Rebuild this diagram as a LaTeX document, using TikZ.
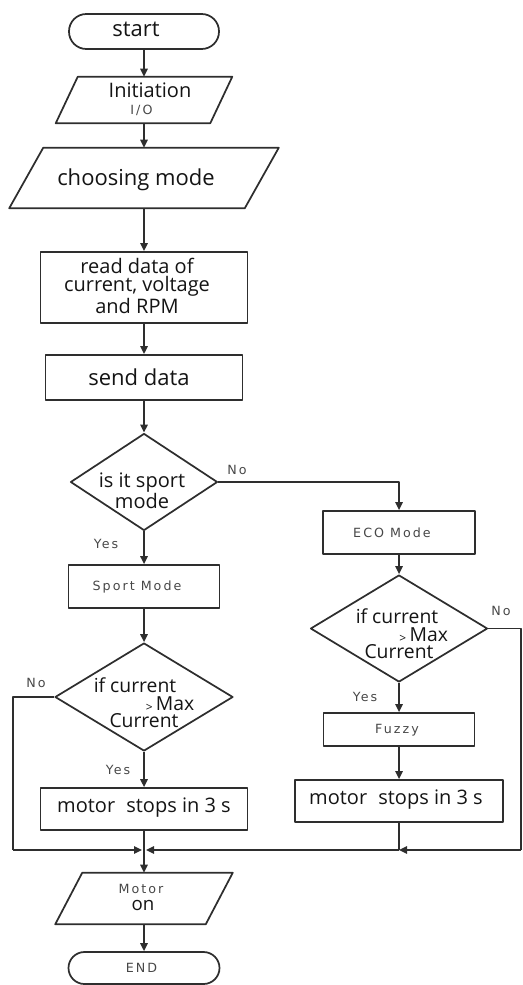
\documentclass[tikz,border=0pt]{standalone}
\usepackage{fontspec}
\setmainfont{Open Sans}
\newfontfamily\smallf[LetterSpace=16]{DejaVu Sans}
\usetikzlibrary{shapes.geometric,arrows.meta}
\begin{document}
\begin{tikzpicture}[x=0.75pt,y=-0.75pt,
 line/.style={draw=black!82, line width=1.3pt, line join=round},
 arr/.style={line, -{Triangle[length=6pt,width=5.5pt]}},
 box/.style={line, rectangle, inner sep=0pt},
 term/.style={line, rectangle, inner sep=0pt, rounded corners=12pt},
 ghost/.style={rectangle, inner sep=0pt},
 dec/.style={line, diamond, inner sep=0pt},
 big/.style={font=\fontsize{16.5}{18}\selectfont, align=center, inner sep=0pt, text=black!92},
 mid/.style={font=\fontsize{15}{13.5}\selectfont, align=center, inner sep=0pt, text=black!92},
 cond/.style={font=\fontsize{14.5}{13}\selectfont, align=center, inner sep=0pt, text=black!92},
 sm/.style={font=\smallf\fontsize{9.5}{12}\selectfont, text=black!72, inner sep=0pt, align=center},
]
\useasboundingbox (0,0) rectangle (523,985);

% ---- shapes ----
\node[term, minimum width=112.5pt, minimum height=26.25pt, rounded corners=13pt] (start) at (144,31.5) {};
\node[big] (startT) at (136,29) {start};

\node[ghost, minimum width=132pt, minimum height=34.5pt] (init) at (144,100) {};
\draw[line] ([xshift=16.5pt]init.north west) -- (init.north east) -- ([xshift=-16.5pt]init.south east) -- (init.south west) -- cycle;
\node[mid] (initT) at (150,90) {Initiation};
\node[sm] (initIO) at (141.5,110) {I/O};

\node[ghost, minimum width=201.75pt, minimum height=45pt] (choose) at (144,178) {};
\draw[line] ([xshift=25.5pt]choose.north west) -- (choose.north east) -- ([xshift=-25.5pt]choose.south east) -- (choose.south west) -- cycle;
\node[big] (chooseT) at (136,180) {choosing mode};

\node[box, minimum width=155.25pt, minimum height=53.25pt] (read) at (144,287.5) {};
\node[mid] (readT) at (137,286) {read data of\\current, voltage\\and RPM};

\node[box, minimum width=147.75pt, minimum height=33.75pt] (send) at (144,377.5) {};
\node[big] (sendT) at (139,377) {send data};

\node[dec, minimum width=110.25pt, minimum height=72.75pt] (dec1) at (144,482) {};
\node[mid] (dec1T) at (142,491) {is it sport\\mode};

\node[box, minimum width=114pt, minimum height=32.25pt] (eco) at (399,532.5) {};
\node[sm] (ecoT) at (392,533) {ECO Mode};

\node[box, minimum width=113.25pt, minimum height=32.25pt] (sport) at (144,586.5) {};
\node[sm] (sportT) at (137,587) {Sport Mode};

\node[dec, minimum width=133.5pt, minimum height=81pt] (dec2) at (144,697) {};
\node[cond] (dec2T) at (144,703)
  {if current\hspace*{13.5pt}\\\hspace*{39pt}\raisebox{-1pt}{\fontsize{9}{9}\selectfont >}\,Max\\Current};

\node[dec, minimum width=132.75pt, minimum height=80.25pt] (dec3) at (399,628.5) {};
\node[cond] (dec3T) at (399,634)
  {if current\hspace*{3pt}\\\hspace*{37pt}\raisebox{-1pt}{\fontsize{9}{9}\selectfont >}\,Max\\Current};

\node[box, minimum width=113.25pt, minimum height=24.75pt] (fuzzy) at (399,729.5) {};
\node[sm] (fuzzyT) at (397,730) {Fuzzy};

\node[box, minimum width=155.25pt, minimum height=31.5pt] (stopL) at (144,809) {};
\node[mid] (stopLT) at (144,808) {motor\hspace{0.3em} stops in 3 s};

\node[box, minimum width=156pt, minimum height=31.5pt] (stopR) at (399,801) {};
\node[mid] (stopRT) at (396,800) {motor\hspace{0.3em} stops in 3 s};

\node[ghost, minimum width=132.75pt, minimum height=38.25pt] (motor) at (144,898.5) {};
\draw[line] ([xshift=20.25pt]motor.north west) -- (motor.north east) -- ([xshift=-20.25pt]motor.south east) -- (motor.south west) -- cycle;
\node[sm] (motorT) at (141,889) {Motor};
\node[mid, font=\fontsize{14}{14}\selectfont] (motorOn) at (143,905) {on};

\node[term, minimum width=113.25pt, minimum height=24pt] (end) at (144,968) {};
\node[sm] (endT) at (141.5,968) {END};

% ---- junction points ----
\coordinate (cL) at (13,850);
\coordinate (jL) at (142,850);
\coordinate (jR) at (146,850);
\coordinate (mR) at (399,850);
\coordinate (cR) at (521,850);

% ---- connectors ----
\draw[arr] (start) -- (init);
\draw[arr] (init) -- (choose);
\draw[arr] (choose) -- (read);
\draw[arr] (read) -- (send);
\draw[arr] (send) -- (dec1);
\draw[arr] (dec1.south) -- (sport);
\draw[arr] (dec1.east) -| (eco.north);
\draw[arr] (eco) -- (dec3.north);
\draw[arr] (dec3.south) -- (fuzzy);
\draw[arr] (fuzzy) -- (stopR);
\draw[arr] (sport) -- (dec2.north);
\draw[arr] (dec2.south) -- (stopL);
\draw[line] (dec2.west) -| (cL);
\draw[arr] (cL) -- (jL);
\draw[line] (dec3.east) -| (cR);
\draw[arr] (cR) -- (mR);
\draw[line] (stopR) -- (mR);
\draw[arr] (mR) -- (jR);
\draw[arr] (stopL) -- (motor);
\draw[arr] (motor) -- (end);

% ---- branch labels ----
\node[sm] (no1) at (237,470) {No};
\node[sm] (yes1) at (106,544) {Yes};
\node[sm] (no2) at (36,683) {No};
\node[sm] (yes2) at (118,770) {Yes};
\node[sm] (yes3) at (365,697) {Yes};
\node[sm] (no3) at (501,611) {No};
\end{tikzpicture}
\end{document}
